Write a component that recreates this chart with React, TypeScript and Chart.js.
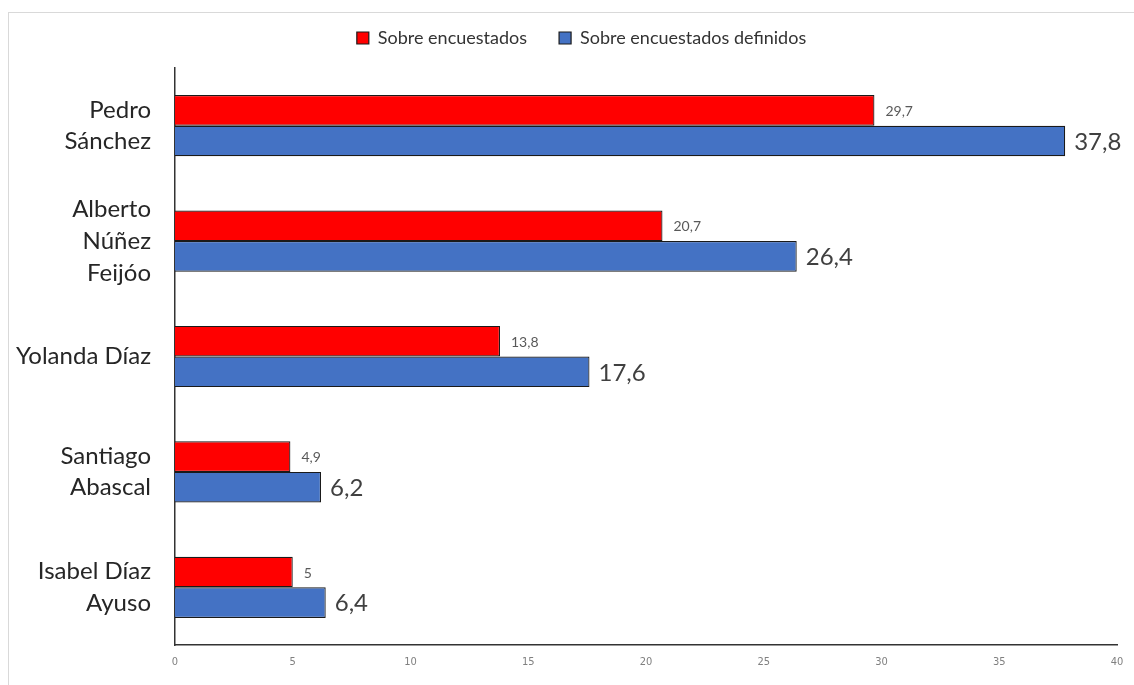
import React, { useEffect, useRef } from "react";
import { Chart, registerables } from "chart.js";

Chart.register(...registerables);

const categories: (string | string[])[] = [
  ["Pedro", "Sánchez"],
  ["Alberto", "Núñez", "Feijóo"],
  "Yolanda Díaz",
  ["Santiago", "Abascal"],
  ["Isabel Díaz", "Ayuso"],
];
const seriesNames = ["Sobre encuestados", "Sobre encuestados definidos"];
const sobreEncuestados = [29.7, 20.7, 13.8, 4.9, 5];
const sobreDefinidos = [37.8, 26.4, 17.6, 6.2, 6.4];
const xTickMin = 0;
const xTickMax = 40;
const xTickStep = 5;

const FONT = "Lato, 'Open Sans', sans-serif";

const labelStyles = [
  { size: 14, color: "#595959", offset: 11 },
  { size: 24, color: "#404040", offset: 9 },
];

const fmt = (v: number) => String(v).replace(".", ",");

const valueLabels = {
  id: "valueLabels",
  afterDatasetsDraw(chart: any) {
    const ctx = chart.ctx;
    chart.data.datasets.forEach((ds: any, di: number) => {
      const meta = chart.getDatasetMeta(di);
      const st = labelStyles[di];
      meta.data.forEach((bar: any, i: number) => {
        ctx.save();
        ctx.font = `${st.size}px ${FONT}`;
        ctx.fillStyle = st.color;
        ctx.textAlign = "left";
        ctx.textBaseline = "middle";
        ctx.fillText(fmt(ds.data[i]), bar.x + st.offset, bar.y + 1);
        ctx.restore();
      });
    });
  },
};

export default function App() {
  const ref = useRef<HTMLCanvasElement | null>(null);
  useEffect(() => {
    if (!ref.current) return;
    const chart = new Chart(ref.current, {
      type: "bar",
      data: {
        labels: categories,
        datasets: [
          {
            label: seriesNames[0],
            data: sobreEncuestados,
            backgroundColor: "#FF0000",
            borderColor: "#1a1a1a",
            borderWidth: 1.2,
          },
          {
            label: seriesNames[1],
            data: sobreDefinidos,
            backgroundColor: "#4472C4",
            borderColor: "#1a1a1a",
            borderWidth: 1.2,
          },
        ],
      },
      options: {
        indexAxis: "y",
        animation: false,
        responsive: true,
        maintainAspectRatio: false,
        datasets: { bar: { categoryPercentage: 0.53, barPercentage: 1 } },
        layout: { padding: { left: 0, right: 0, top: -16, bottom: 0 } },
        plugins: {
          tooltip: { enabled: false },
          legend: {
            position: "top",
            labels: {
              font: { family: FONT, size: 18 },
              color: "#333333",
              boxWidth: 12,
              boxHeight: 12,
              padding: 32,
            },
          },
          title: {
            display: true,
            text: "",
            weight: 500,
            font: { size: 1, lineHeight: 1 },
            padding: { top: 0, bottom: 10 },
          } as any,
        },
        scales: {
          x: {
            min: xTickMin,
            max: xTickMax,
            ticks: {
              stepSize: xTickStep,
              color: "#808080",
              font: { family: "'DejaVu Sans Condensed', 'Liberation Sans Narrow', sans-serif", size: 11 },
              padding: 11,
            },
            grid: { display: false, drawTicks: false },
            border: { display: true, color: "#333333", width: 1.5 },
            afterFit: (s: any) => {
              s.height = 40;
            },
          },
          y: {
            ticks: {
              color: "#262626",
              font: { family: FONT, size: 24, lineHeight: 1.32 },
              padding: 24,
              crossAlign: "near",
            },
            grid: { display: false, drawTicks: false },
            border: { display: true, color: "#333333", width: 1.5 },
            afterFit: (s: any) => {
              s.width = 166;
              s.paddingTop = 0;
              s.paddingBottom = 0;
            },
          },
          yRightSpace: {
            type: "linear",
            position: "right",
            display: true,
            ticks: { display: false },
            grid: { display: false, drawTicks: false },
            border: { display: false },
            afterFit: (s: any) => {
              s.width = 37;
              s.paddingTop = 0;
              s.paddingBottom = 0;
            },
          },
        },
      },
      plugins: [valueLabels],
    });
    return () => chart.destroy();
  }, []);

  return (
    <>
      <div
        style={{
          position: "fixed",
          left: 8,
          top: 12,
          width: 1200,
          height: 720,
          border: "1px solid #d9d9d9",
          background: "#fff",
        }}
      />
      <div
        style={{
          position: "fixed",
          left: 9,
          top: 13,
          width: 1145,
          height: 672,
        }}
      >
        <canvas ref={ref} />
      </div>
    </>
  );
}
